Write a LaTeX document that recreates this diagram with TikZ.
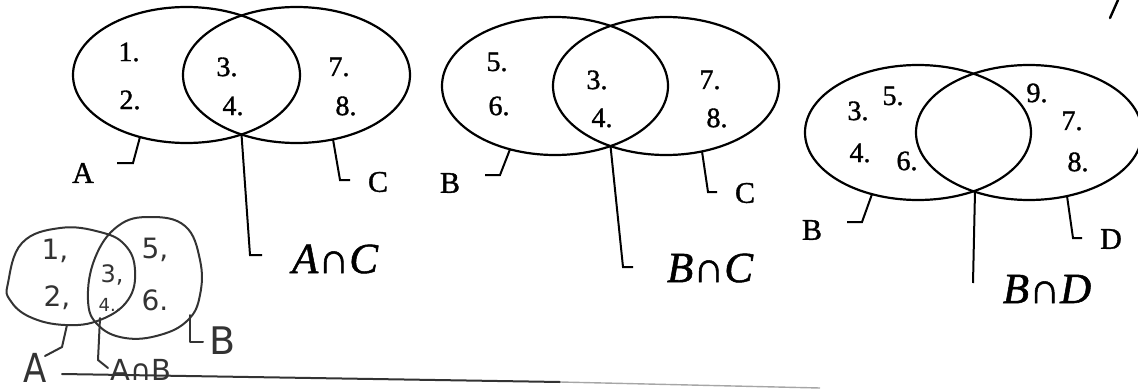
\documentclass[tikz,border=0pt]{standalone}
\usepackage{fontspec}
\setmainfont[FakeBold=1.2]{Liberation Serif}
\newfontfamily\handfont{DejaVu Sans}
\tikzset{
  venn/.style={line width=2.2pt, draw=black},
  lead/.style={line width=2pt, draw=black},
  num/.style={font=\fontsize{28}{28}\selectfont, inner sep=0pt},
  setlbl/.style={font=\fontsize{30}{30}\selectfont, inner sep=0pt},
  caplbl/.style={font=\fontsize{43}{43}\selectfont\itshape, inner sep=0pt},
  handline/.style={line width=2pt, draw=black!80, line cap=round, line join=round},
  handtxt/.style={font=\handfont\fontsize{28}{28}\selectfont, text=black!80, inner sep=0pt},
}
\begin{document}
\begin{tikzpicture}[x=1pt,y=-1pt]
\useasboundingbox (0,0) rectangle (1138,391);

% ---------- Diagram 1: A and C ----------
\draw[venn] (186.5,75) ellipse [x radius=113.5, y radius=68];
\draw[venn] (296.5,75) ellipse [x radius=113.5, y radius=68];
\node[num] (a1) at (129,52) {1.};
\node[num] (a2) at (130,100) {2.};
\node[num] (a3) at (227,67) {3.};
\node[num] (a4) at (233,106) {4.};
\node[num] (a7) at (339,67) {7.};
\node[num] (a8) at (346,106) {8.};
\coordinate (iAC) at (241.5,134.5);
\coordinate (iACb) at (250,255);
\coordinate (iACe) at (262,255);
\node[caplbl] (lAC) at (335,259) {A∩C};
\draw[lead] (iAC) -- (iACb) -- (iACe);
\coordinate (eA1) at (140,137);
\coordinate (eA1b) at (133,163);
\coordinate (eA1e) at (117,163);
\node[setlbl] (lA1) at (83,173) {A};
\draw[lead] (eA1) -- (eA1b) -- (eA1e);
\coordinate (eC1) at (333,139.4);
\coordinate (eC1b) at (340,180);
\coordinate (eC1e) at (350,180);
\node[setlbl] (lC1) at (378,182) {C};
\draw[lead] (eC1) -- (eC1b) -- (eC1e);

% ---------- Diagram 2: B and C ----------
\draw[venn] (555,86) ellipse [x radius=113, y radius=69];
\draw[venn] (666,86) ellipse [x radius=113, y radius=69];
\node[num] (b5) at (497,62) {5.};
\node[num] (b6) at (499,106) {6.};
\node[num] (b3) at (597,80) {3.};
\node[num] (b4) at (602,118) {4.};
\node[num] (b7) at (710,80) {7.};
\node[num] (b8) at (717,118) {8.};
\coordinate (iBC) at (610.5,146);
\coordinate (iBCb) at (623,267);
\coordinate (iBCe) at (633,267);
\node[caplbl] (lBC) at (710,268) {B∩C};
\draw[lead] (iBC) -- (iBCb) -- (iBCe);
\coordinate (eB2) at (510,149.3);
\coordinate (eB2b) at (500,175);
\coordinate (eB2e) at (485,175);
\node[setlbl] (lB2) at (450,183) {B};
\draw[lead] (eB2) -- (eB2b) -- (eB2e);
\coordinate (eC2) at (702,151.4);
\coordinate (eC2b) at (708,192);
\coordinate (eC2e) at (717,192);
\node[setlbl] (lC2) at (745,193) {C};
\draw[lead] (eC2) -- (eC2b) -- (eC2e);

% ---------- Diagram 3: B and D ----------
\draw[venn] (918,132.5) ellipse [x radius=113, y radius=67.5];
\draw[venn] (1029,132.5) ellipse [x radius=113, y radius=67.5];
\node[num] (c3) at (858,111) {3.};
\node[num] (c5) at (893,96) {5.};
\node[num] (c4) at (860,153) {4.};
\node[num] (c6) at (907,161) {6.};
\node[num] (c9) at (1037,93) {9.};
\node[num] (c7) at (1072,121) {7.};
\node[num] (c8) at (1078,162) {8.};
\coordinate (iBD) at (975,191.3);
\coordinate (iBDb) at (973,283);
\node[caplbl] (lBD) at (1047,289) {B∩D};
\draw[lead] (iBD) -- (iBDb);
\coordinate (eB3) at (872,194.2);
\coordinate (eB3b) at (862,222);
\coordinate (eB3e) at (847,222);
\node[setlbl] (lB3) at (812,230) {B};
\draw[lead] (eB3) -- (eB3b) -- (eB3e);
\coordinate (eD3) at (1067,196);
\coordinate (eD3b) at (1073,238);
\coordinate (eD3e) at (1082,238);
\node[setlbl] (lD3) at (1111,239) {D};
\draw[lead] (eD3) -- (eD3b) -- (eD3e);

% stray pen mark top right
\coordinate (sm1) at (1110,18);
\coordinate (sm2) at (1118,0);
\draw[handline, draw=black, line width=2.4pt] (sm1) -- (sm2);

% ---------- Hand-drawn diagram: A and B ----------
\draw[handline] plot[smooth cycle, tension=0.7] coordinates
  {(8,283) (22,243) (60,228) (100,232) (125,245) (135,270) (128,300) (100,320) (65,325) (30,317) (10,300)};
\draw[handline] plot[smooth cycle, tension=0.7] coordinates
  {(88,300) (95,258) (118,226) (150,217) (185,226) (200,260) (200,295) (188,320) (160,335) (125,338) (98,325)};
\node[handtxt] (h1) at (55,251) {1,};
\node[handtxt] (h2) at (57,298) {2,};
\node[handtxt, font=\handfont\fontsize{24}{24}\selectfont] (h3) at (112,275) {3,};
\node[handtxt, font=\handfont\fontsize{18}{18}\selectfont] (h4) at (110,305) {4..};
\node[handtxt] (h5) at (155,250) {5,};
\node[handtxt] (h6) at (155,300) {6.};
\node[handtxt, font=\handfont\fontsize{40}{40}\selectfont, xscale=0.85] (hA) at (35,368) {A};
\node[handtxt, font=\handfont\fontsize{29}{29}\selectfont] (hAB) at (141,370) {A∩B};
\node[handtxt, font=\handfont\fontsize{38}{38}\selectfont] (hB) at (223,341) {B};
\coordinate (hA0) at (67,325);
\coordinate (hA1) at (62,347);
\coordinate (hA2) at (45,356);
\draw[handline] (hA0) -- (hA1) -- (hA2);
\coordinate (hI0) at (100,318);
\coordinate (hI1) at (98,360);
\coordinate (hI2) at (108,368);
\draw[handline] (hI0) -- (hI1) -- (hI2);
\coordinate (hB0) at (190,315);
\coordinate (hB1) at (190,342);
\coordinate (hB2) at (203,342);
\draw[handline] (hB0) -- (hB1) -- (hB2);
% underline
\coordinate (ul0) at (62,374);
\coordinate (ul1) at (560,382);
\coordinate (ul2) at (820,388);
\draw[handline] (ul0) -- (ul1);
\draw[line width=1.4pt, draw=black!35] (ul1) -- (ul2);
\end{tikzpicture}
\end{document}
